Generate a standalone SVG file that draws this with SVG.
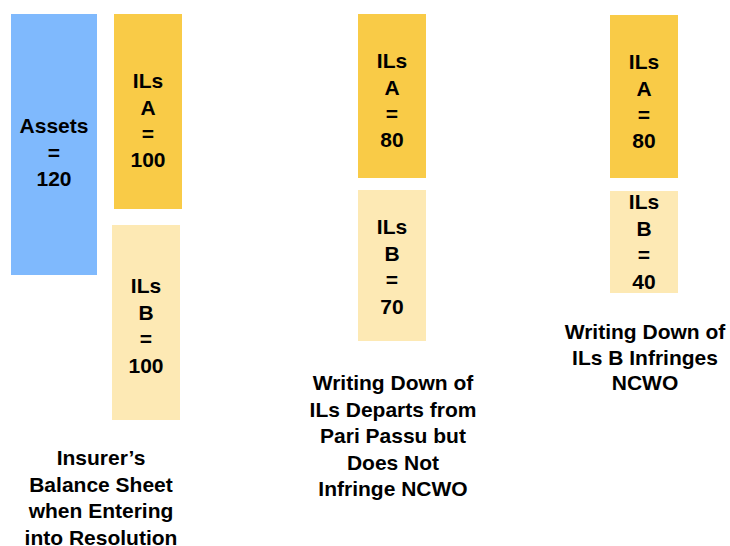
<svg xmlns="http://www.w3.org/2000/svg" width="730" height="546" viewBox="0 0 730 546">
<style>
text{font-family:"Liberation Sans",Arial,sans-serif;font-weight:bold;font-size:21px;fill:#000;text-anchor:middle}
.assets{fill:#7fb9fd}
.ila{fill:#f9cb47}
.ilb{fill:#fde9b4}
</style>
<rect width="730" height="546" fill="#fff"/>
<g id="assets">
<rect class="assets" x="11" y="14" width="86" height="261"/>
<text x="54" y="133">Assets</text>
<text x="54" y="159.5">=</text>
<text x="54" y="186">120</text>
</g>
<g id="ilsA-1">
<rect class="ila" x="114" y="14" width="68" height="195"/>
<text x="148" y="88">ILs</text>
<text x="148" y="114.5">A</text>
<text x="148" y="141">=</text>
<text x="148" y="167">100</text>
</g>
<g id="ilsB-1">
<rect class="ilb" x="112" y="225" width="68" height="195"/>
<text x="146" y="293">ILs</text>
<text x="146" y="319.5">B</text>
<text x="146" y="346">=</text>
<text x="146" y="372.5">100</text>
</g>
<g id="caption-1">
<text x="101" y="465">Insurer’s</text>
<text x="101" y="491.7">Balance Sheet</text>
<text x="101" y="518.3">when Entering</text>
<text x="101" y="545">into Resolution</text>
</g>
<g id="ilsA-2">
<rect class="ila" x="358" y="14" width="68" height="164"/>
<text x="392" y="68">ILs</text>
<text x="392" y="94.5">A</text>
<text x="392" y="121">=</text>
<text x="392" y="147">80</text>
</g>
<g id="ilsB-2">
<rect class="ilb" x="358" y="190" width="68" height="151"/>
<text x="392" y="234">ILs</text>
<text x="392" y="260.5">B</text>
<text x="392" y="287">=</text>
<text x="392" y="313.5">70</text>
</g>
<g id="caption-2">
<text x="393" y="390">Writing Down of</text>
<text x="393" y="416.5">ILs Departs from</text>
<text x="393" y="443">Pari Passu but</text>
<text x="393" y="469.5">Does Not</text>
<text x="393" y="496">Infringe NCWO</text>
</g>
<g id="ilsA-3">
<rect class="ila" x="610" y="15" width="68" height="163"/>
<text x="644" y="69">ILs</text>
<text x="644" y="95.5">A</text>
<text x="644" y="122">=</text>
<text x="644" y="148">80</text>
</g>
<g id="ilsB-3">
<rect class="ilb" x="610" y="191" width="68" height="102"/>
<text x="644" y="209">ILs</text>
<text x="644" y="236">B</text>
<text x="644" y="262">=</text>
<text x="644" y="289">40</text>
</g>
<g id="caption-3">
<text x="645" y="339">Writing Down of</text>
<text x="645" y="364.5">ILs B Infringes</text>
<text x="645" y="390">NCWO</text>
</g>
<g id="connectors"/>
</svg>
